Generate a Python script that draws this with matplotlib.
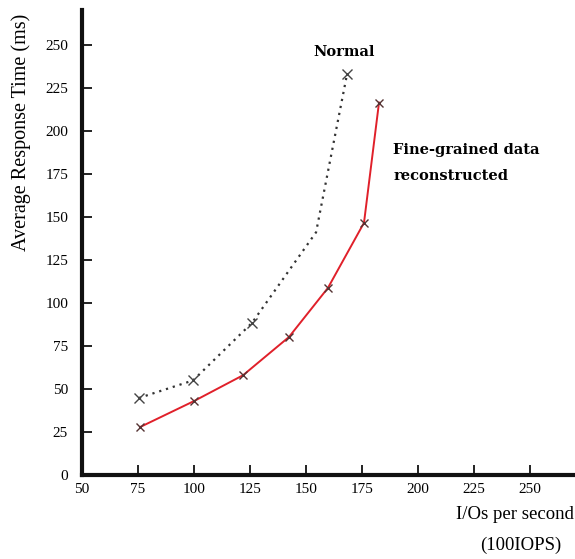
import matplotlib
matplotlib.use("Agg")
import matplotlib.pyplot as plt

normal_x = [75.4, 99.6, 125.9, 154.5, 168.3]
normal_y = [44.8, 55.0, 88.4, 141.0, 232.6]
normal_markers = [0, 1, 2, 4]

fine_x = [75.9, 100.0, 121.9, 142.4, 159.8, 175.9, 182.6]
fine_y = [27.9, 43.0, 58.0, 80.2, 108.7, 146.5, 216.3]

x_ticks = [50, 75, 100, 125, 150, 175, 200, 225, 250]
y_ticks = [0, 25, 50, 75, 100, 125, 150, 175, 200, 225, 250]

plt.rcParams['font.family'] = ['Liberation Serif', 'DejaVu Serif']

fig = plt.figure(figsize=(5.75, 5.59), dpi=100)
ax = fig.add_axes([0.1426, 0.150, 0.857, 0.832])

ax.plot(normal_x, normal_y, linestyle=(0, (1, 2.2)), color='#333333', linewidth=1.6,
        marker='x', markevery=normal_markers, markersize=7, markeredgewidth=1.0,
        markeredgecolor='#444444')
ax.plot(fine_x, fine_y, linestyle='-', color='#e0202a', linewidth=1.4,
        marker='x', markersize=6, markeredgewidth=1.0, markeredgecolor='#553333')

ax.set_xlim(50, 270)
ax.set_ylim(0, 270)
ax.set_xticks(x_ticks)
ax.set_yticks(y_ticks)
ax.set_xticklabels([str(v) for v in x_ticks], fontsize=11)
ax.set_yticklabels([str(v) for v in y_ticks], fontsize=11)
ax.tick_params(axis='both', direction='in', length=7, width=1.4, color='#222222')
ax.tick_params(axis='y', pad=10)
ax.tick_params(axis='x', pad=6)

for s in ['top', 'right']:
    ax.spines[s].set_visible(False)
for s in ['left', 'bottom']:
    ax.spines[s].set_linewidth(3)
    ax.spines[s].set_color('#111111')

fig.text(0.037, 0.764, 'Average Response Time (ms)', rotation=90, ha='center', va='center',
         fontsize=14.5)
fig.text(0.998, 0.079, 'I/Os per second', ha='right', va='center', fontsize=13.5)
fig.text(0.905, 0.025, '(100IOPS)', ha='center', va='center', fontsize=13.5)

bold_font = ['DejaVu Serif']
ax.text(153.5, 245.5, 'Normal', fontsize=10.5, fontweight='bold', ha='left', va='center',
        family=bold_font)
ax.text(189, 189, 'Fine-grained data', fontsize=10.5, fontweight='bold', ha='left', va='center',
        family=bold_font)
ax.text(189, 173.5, 'reconstructed', fontsize=10.5, fontweight='bold', ha='left', va='center',
        family=bold_font)

fig.savefig('out.png', dpi=100)
